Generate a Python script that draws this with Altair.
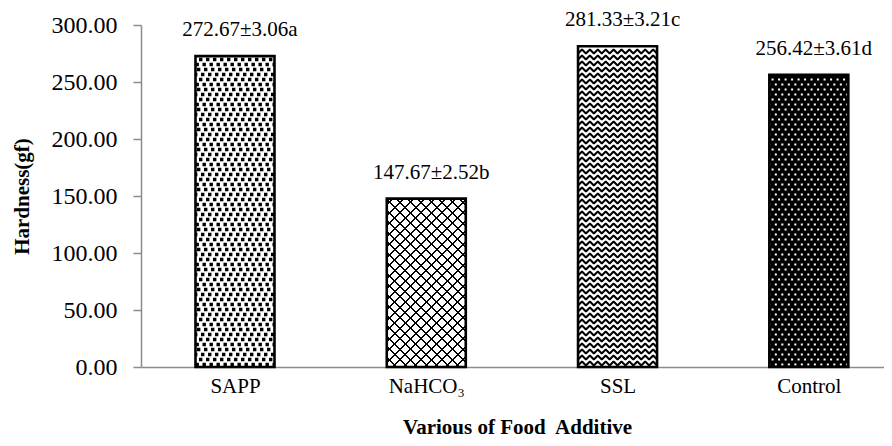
import json
import altair as alt
import pandas as pd

# ---------------- data ----------------
categories = ["SAPP", "NaHCO₃", "SSL", "Control"]
means = [272.67, 147.67, 281.33, 256.42]
sds = [3.06, 2.52, 3.21, 3.61]
letters = ["a", "b", "c", "d"]
y_ticks = [0, 50, 100, 150, 200, 250, 300]

# ---------------- layout / style ----------------
W_PLOT, H_PLOT = 743, 342
X_DOMAIN = [-0.4914, 3.393]
Y_DOMAIN = [0, 300]
HALF = 0.2065
PX_X = (X_DOMAIN[1] - X_DOMAIN[0]) / W_PLOT   # data units per pixel (x)
PX_Y = (Y_DOMAIN[1] - Y_DOMAIN[0]) / H_PLOT   # data units per pixel (y)
BAR_PX = 2 * HALF / PX_X
SERIF = "'Liberation Serif', 'Times New Roman', Times, serif"
AXIS_GRAY = "#8c8c8c"

df = pd.DataFrame({
    "idx": list(range(len(categories))),
    "cat": categories,
    "value": means,
    "sd": sds,
    "letter": letters,
})
df["label"] = [f"{m:.2f}±{s:.2f}{l}" for m, s, l in zip(means, sds, letters)]

xs = alt.Scale(domain=X_DOMAIN, nice=False, zero=False)
ys = alt.Scale(domain=Y_DOMAIN, nice=False)

label_expr = json.dumps(categories, ensure_ascii=False) + "[datum.value]"
xaxis = alt.Axis(
    values=list(range(len(categories))), labelExpr=label_expr, ticks=False, tickSize=0,
    grid=False, domainColor=AXIS_GRAY, domainWidth=1.5, labelFont=SERIF, labelFontSize=21,
    labelColor="black", labelPadding=8, labelOverlap=False,
    title="Various of Food\u00a0 Additive", titleFont=SERIF, titleFontSize=21, titleFontWeight="bold",
    titleColor="black", titleX=376, titleY=60, titleAlign="center", titleBaseline="middle",
)
yaxis = alt.Axis(
    values=y_ticks, format=".2f", grid=False, domainColor=AXIS_GRAY, domainWidth=1.5,
    tickColor=AXIS_GRAY, tickSize=8, tickWidth=1.5, labelFont=SERIF, labelFontSize=24,
    labelColor="black", labelPadding=16,
    title="Hardness(gf)", titleFont=SERIF, titleFontSize=21, titleFontWeight="bold",
    titleColor="black", titleX=-119, titleY=171, titleAngle=270, titleAlign="center",
    titleBaseline="middle",
)

LO = f"datum.idx - {HALF}"
HI = f"datum.idx + {HALF}"


def bar_enc():
    return dict(
        x=alt.X("lo:Q", scale=xs, axis=xaxis),
        x2="hi:Q",
        y=alt.Y("value:Q", scale=ys, axis=yaxis),
        y2=alt.datum(0),
    )


def one(cat):
    return alt.Chart(df).transform_filter(alt.datum.cat == cat).transform_calculate(lo=LO, hi=HI)


# base fills
base_fill = {"SAPP": "white", "NaHCO₃": "white", "SSL": "white", "Control": "black"}
layers = []
for c in categories:
    layers.append(one(c).mark_bar(fill=base_fill[c], strokeWidth=0).encode(**bar_enc()))


# dotted patterns (rows of dashed rules)
def dot_rows(cat, pitch_px, dash, width_px, color, offsets):
    pitch = pitch_px * PX_Y
    base = (one(cat)
            .transform_calculate(rows=f"sequence({pitch / 2}, datum.value - {pitch * 0.45}, {pitch})")
            .transform_flatten(["rows"])
            .transform_calculate(par=f"floor(datum.rows / {pitch}) % {len(offsets)}"))
    out = []
    for p, off in enumerate(offsets):
        out.append(base.transform_filter(f"datum.par == {p}")
                   .mark_rule(stroke=color, strokeWidth=width_px, strokeDash=dash, strokeDashOffset=off)
                   .encode(x=alt.X("lo:Q", scale=xs, axis=xaxis), x2="hi:Q",
                           y=alt.Y("rows:Q", scale=ys, axis=yaxis)))
    return out


layers += dot_rows("SAPP", 5, [3.4, 3.6], 3.4, "black", [0, 3.5, 1.5, 5.5])
layers += dot_rows("Control", 5, [2, 4.5], 2, "white", [1, 4.25])

# crosshatch (NaHCO3) via striped gradients
CLEAR = "rgba(0,0,0,0)"


def stripe_stops(total, period, thick, color):
    stops = [alt.GradientStop(color=CLEAR, offset=0)]
    c = period / 2
    while c < total:
        a, b = min(c / total, 1), min((c + thick) / total, 1)
        stops += [alt.GradientStop(color=CLEAR, offset=a), alt.GradientStop(color=color, offset=a),
                  alt.GradientStop(color=color, offset=b), alt.GradientStop(color=CLEAR, offset=b)]
        c += period
    stops.append(alt.GradientStop(color=CLEAR, offset=1))
    return stops


hatch_cat = "NaHCO₃"
Wb = BAR_PX
Hb = means[categories.index(hatch_cat)] / PX_Y
s = (Wb + Hb) / (Wb ** 2 + Hb ** 2)
gx, gy = Wb * s, Hb * s
stops = stripe_stops(Wb + Hb, 10.5, 2.2, "black")
g1 = alt.LinearGradient(gradient="linear", stops=stops, x1=0, y1=0, x2=gx, y2=gy)
g2 = alt.LinearGradient(gradient="linear", stops=stops, x1=1, y1=0, x2=1 - gx, y2=gy)
layers.append(one(hatch_cat).mark_bar(fill=g1, strokeWidth=0).encode(**bar_enc()))
layers.append(one(hatch_cat).mark_bar(fill=g2, strokeWidth=0).encode(**bar_enc()))

# zigzag (SSL)
n_seg = 20
dx_d = 2 * HALF / n_seg
amp_d = 4 * PX_Y
pitch_d = 6 * PX_Y
r0 = 1.5 * PX_Y
zz = (one("SSL")
      .transform_calculate(rows=f"sequence({r0}, datum.value - {amp_d + r0}, {pitch_d})")
      .transform_flatten(["rows"])
      .transform_calculate(ks=f"sequence(0, {n_seg + 1})")
      .transform_flatten(["ks"])
      .transform_calculate(zx=f"datum.idx - {HALF} + datum.ks * {dx_d}",
                           zy=f"datum.rows + (datum.ks % 2) * {amp_d}")
      .mark_line(stroke="black", strokeWidth=2, strokeJoin="bevel")
      .encode(x=alt.X("zx:Q", scale=xs, axis=xaxis), y=alt.Y("zy:Q", scale=ys, axis=yaxis),
              detail="rows:Q", order="ks:Q"))
layers.append(zz)

# borders
border = (alt.Chart(df).transform_calculate(lo=LO, hi=HI)
          .mark_bar(fill="transparent", stroke="black", strokeWidth=2.6, strokeJoin="miter")
          .encode(**bar_enc()))
layers.append(border)

# value labels
text = (alt.Chart(df)
        .mark_text(font=SERIF, fontSize=21, dy=-26, dx=5, baseline="middle", align="center",
                   color="black")
        .encode(x=alt.X("idx:Q", scale=xs, axis=xaxis), y=alt.Y("value:Q", scale=ys, axis=yaxis),
                text="label:N"))
layers.append(text)

chart = (alt.layer(*layers)
         .properties(width=W_PLOT, height=H_PLOT,
                     autosize=alt.AutoSizeParams(type="none"),
                     padding={"left": 133, "top": 17, "right": 0, "bottom": 70},
                     background="white")
         .configure_view(stroke=None))

chart.save("out.html", embed_options={"renderer": "svg", "actions": False})
